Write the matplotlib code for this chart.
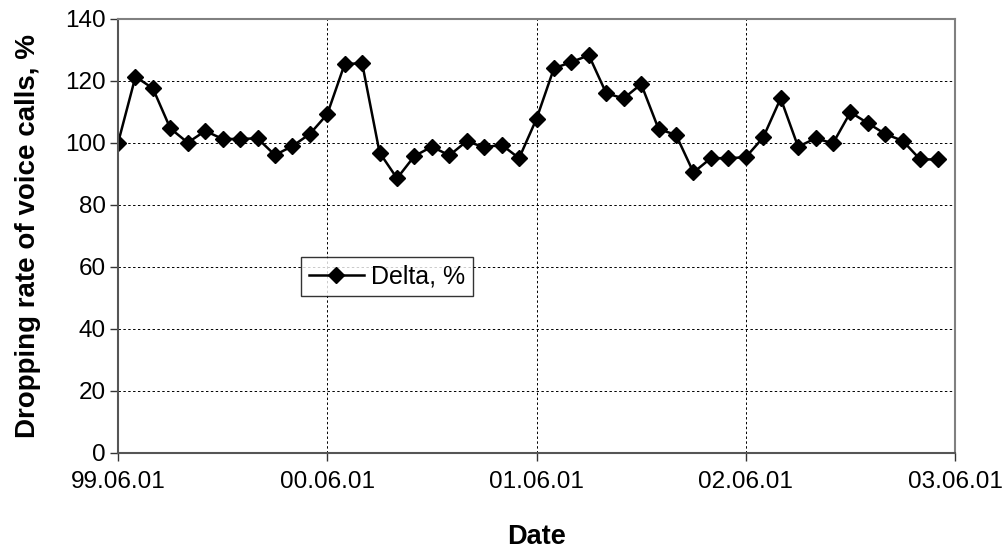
import matplotlib
matplotlib.use("Agg")
import matplotlib.pyplot as plt

# monthly delta of voice call dropping rate, starting 99.06
delta = [100.0, 121.4, 117.6, 104.7, 100.1, 103.9, 101.3, 101.3, 101.5, 96.1, 99.0, 102.9,
         109.3, 125.5, 125.7, 96.9, 88.6, 95.8, 98.8, 96.0, 100.6, 98.6, 99.4, 95.1,
         107.8, 124.1, 126.1, 128.3, 116.0, 114.4, 119.0, 104.5, 102.6, 90.5, 95.1, 95.1,
         95.4, 101.8, 114.4, 98.8, 101.5, 99.9, 109.9, 106.4, 102.9, 100.7, 94.7, 94.7]
months = list(range(len(delta)))
year_ticks = [0, 12, 24, 36, 48]
year_labels = ["99.06.01", "00.06.01", "01.06.01", "02.06.01", "03.06.01"]
y_ticks = [0, 20, 40, 60, 80, 100, 120, 140]

plt.rcParams['font.family'] = ['Liberation Sans', 'DejaVu Sans']

fig = plt.figure(figsize=(10.07, 5.49), dpi=100)
ax = fig.add_axes([0.1172, 0.1749, 0.8312, 0.7905])

ax.plot(months, delta, color='black', lw=1.8, marker='D', ms=8.5,
        markerfacecolor='black', markeredgecolor='black', label='Delta, %')

ax.set_xlim(0, 48)
ax.set_ylim(0, 140)
ax.set_xticks(year_ticks)
ax.set_xticklabels(year_labels)
ax.set_yticks(y_ticks)
ax.tick_params(axis='both', labelsize=17.5, direction='out', length=6, width=1,
               color='#333333', pad=3)
ax.tick_params(axis='x', pad=7)

ax.grid(True, color='black', linestyle=(0, (2.5, 2.5)), lw=0.7)
ax.set_axisbelow(True)

for s in ax.spines.values():
    s.set_color('#808080')
    s.set_linewidth(1.5)
ax.spines['left'].set_color('#555555')
ax.spines['bottom'].set_color('#555555')

ax.set_xlabel('Date', fontsize=19.5, fontweight='bold', labelpad=22)
ax.set_ylabel('Dropping rate of voice calls, %', fontsize=20, fontweight='bold', labelpad=17)

leg = ax.legend(loc='lower left', bbox_to_anchor=(0.219, 0.362), fontsize=18,
                frameon=True, fancybox=False, handlelength=2.2, borderpad=0.3,
                handletextpad=0.3, borderaxespad=0)
leg.get_frame().set_edgecolor('black')
leg.get_frame().set_linewidth(1.0)

fig.savefig('out.png', dpi=100)
